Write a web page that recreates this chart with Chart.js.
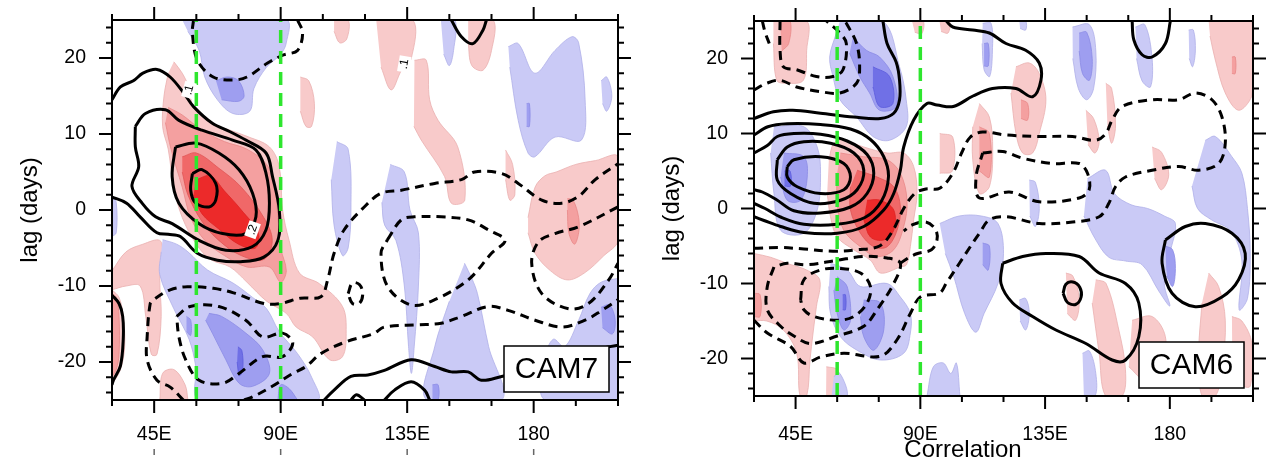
<!DOCTYPE html>
<html>
<head>
<meta charset="utf-8">
<script src="https://cdn.jsdelivr.net/npm/chart.js@4.4.0/dist/chart.umd.min.js"></script>
<style>
  body { margin: 0; background: #fff; }
  canvas { position: absolute; top: 0; }
  #cam7 { left: 0; }
  #cam6 { left: 637px; }
</style>
</head>
<body>
<canvas id="cam7" width="637" height="463"></canvas>
<canvas id="cam6" width="637" height="463"></canvas>
<script>
// axes
const lonTicks = [45, 90, 135, 180];
const lonLabels = ['45E', '90E', '135E', '180'];
const lagTicks = [-20, -10, 0, 10, 20];
const lonRange = [30, 210];
const lagRange = [-25, 25];
const guideLons = [60, 90];

// ---------- CAM7 : shaded correlation (polygons of [lon, lag]) ----------
const cam7Red1 = [
  [[52,19.5],[55,18],[57.5,16],[59,13.5],[65,11.5],[72,10.5],[78,9.7],[86,8.3],[89.5,5.7],[90.7,0],[93,-4],[96.7,-8.3],[103.8,-9.7],[112,-12.7],[113.3,-16.2],[112,-19.3],[107.4,-19.7],[101.4,-16.7],[95.5,-15.4],[92,-13.6],[85,-12],[78,-9.5],[72,-7.5],[65,-6.5],[60,-4.5],[55,-1],[52,3],[50,8],[48,11],[48.5,15],[50,18]],
  [[30,-8],[35,-5.5],[41,-4.5],[47,-4],[48,-6],[47,-9],[47.5,-14],[46,-19],[44,-19],[42,-14],[40,-10],[35,-10],[30,-10.5]],
  [[30,-10.5],[32.5,-11.5],[34,-14],[34.5,-18],[33,-21],[30,-23]],
  [[47,-25],[48,-21.5],[52,-21],[56,-23],[57,-25]],
  [[97,17.5],[100,17],[102,14],[101,11],[99,11],[97,13]],
  [[109,25],[114,25],[113.5,22.5],[111,22],[109,23.5]],
  [[124,25],[137,25],[136.5,20],[133,18.4],[129.3,15.8],[125.7,18.8]],
  [[137.6,19.7],[141.8,19.7],[143,14.5],[146,11.8],[153,8.3],[155.5,1.3],[150.7,0.9],[148.3,4.4],[140,9.2],[137.4,11]],
  [[156.7,25],[165.6,25],[165,21],[162,18.4],[158,19],[156.7,22]],
  [[170,7.9],[172.5,6],[173.3,2],[171.5,1.3],[170,4]],
  [[178,-1],[180.5,3],[184,4.5],[188,5],[195,6],[202,6.5],[210,7],[210,-4],[205,-6],[198,-8.3],[192,-9.2],[186,-8],[180.5,-5.7],[178,-3]]
];
const cam7Red2 = [
  [[50,13.5],[55,12.5],[62,10.5],[70,9],[78,8],[85,6],[88,3],[89,-1],[90,-5],[92,-8],[90,-9.5],[86,-7.5],[78,-7.5],[70,-6],[63,-4],[58,-1],[55,3],[51,8],[49,11.5]],
  [[192,1.5],[194,1.3],[196,-1],[196,-3],[194.5,-4.5],[192.5,-3],[192,0]],
  [[30,-11],[31.5,-11.5],[32.5,-14],[32.5,-19],[31.5,-21],[30,-22]]
];
const cam7Red3 = [
  [[55,7],[60,7.5],[68,5.5],[76,3],[84,-1],[87,-4],[84,-6.5],[76,-6],[68,-4],[62,-1.5],[57,2],[55,5]]
];
const cam7Red4 = [
  [[60,4],[65,4.5],[70,2.5],[76,0],[82,-3],[81,-5],[75,-4.5],[68,-2.5],[62,-0.5],[59,2]]
];
const cam7Blue1 = [
  [[55,25],[92,25],[92,22],[90,20.5],[85,18.8],[80.5,16],[79,13],[73,12.7],[67.5,14.5],[63,17.5],[61,21],[57,23.5]],
  [[48,-3.9],[53,-4.5],[57,-5.5],[64,-7.9],[73,-9.6],[80,-11.5],[85,-13],[89.5,-16],[96,-18.9],[101,-22],[103,-25],[61,-25],[59.8,-20.6],[57.4,-17],[52,-13],[47,-8.5],[47.5,-5.5]],
  [[171,21.5],[174.5,21.9],[180.4,18],[187.6,21],[193.6,22.8],[196,22],[198.3,14.5],[197,9.2],[187.6,9.6],[180.4,7],[178,7.5],[174.5,11.8],[171.5,18.8]],
  [[204,17],[206,17.5],[207.8,15],[206,13],[204.5,14]],
  [[147,25],[152,25],[151.5,21],[150,19],[148,20.5]],
  [[110,9],[114,8],[115,0],[114,-5],[112,-6],[109,-2],[108,4]],
  [[129,6],[134,5],[136,0],[139,-3],[139,-10],[137.5,-18],[136.5,-21.5],[135.5,-18],[134,-10],[131,-4],[127,-2],[126,1]],
  [[155.4,-7],[158,-9],[160,-11],[164,-18],[168.6,-25],[142,-25],[144.8,-18],[150,-12]],
  [[210,-9],[204,-9.5],[200,-11],[196,-14.5],[191,-18],[187,-17],[184,-19.5],[184,-25],[210,-25]],
  [[30,2],[31.5,1],[31.5,-3],[30,-3.5]]
];
const cam7Blue2 = [
  [[67,17],[71,17.5],[75,17],[77,15],[75,14.3],[69,14.5]],
  [[64.5,-13.6],[69,-14],[77.6,-16.2],[83.6,-18.4],[86,-21.5],[80,-23.2],[75.2,-22.8],[70.5,-19.7],[65.7,-16.2],[63.3,-14.5]],
  [[56.5,-14],[58,-14.5],[58,-16.5],[56.5,-16]],
  [[89,-25],[90,-23],[93,-23.5],[96,-25]],
  [[204,-12.8],[207,-12.5],[209,-14.5],[208,-16.3],[204.5,-15.5]],
  [[144,-23],[146,-23],[146,-25],[144,-25]],
  [[177.5,14],[178.5,14],[178.5,11],[177.5,11]]
];
const cam7Blue3 = [
  [[74.8,-18],[76.2,-18.5],[76.5,-21],[75.3,-21.8],[74.5,-20]]
];

// CAM7 : contours of the reference field
const cam7Solid = [
  [[30,14.5],[33,16.2],[37.6,17],[41,18],[46,18.5],[50.7,17.5],[55.5,15.4],[59,13.6],[65.7,11.4],[72,10.3],[77.6,9.2],[84.8,7.5],[87.1,4.4],[89.5,0],[89,-4],[84,-6.2],[75.7,-6.8],[67.5,-6.6],[60.4,-5.7],[54.3,-3.5],[50,-3.2],[46,-3],[40,-0.9],[35.2,0.9],[30,1.7]],
  [[38.3,11],[41.9,12.7],[49,13.2],[53.8,11.8],[62,10.5],[72.9,9.2],[81.2,7.9],[84.8,4.8],[86,0.9],[84.8,-2.6],[80,-4.8],[70.5,-5.3],[61,-4],[51.4,-1.8],[45.5,-0.9],[40.7,0.9],[37.1,3.1],[39.5,5.7],[38.3,8.3],[38.3,11]],
  [[52.6,8.3],[59.8,8.8],[68,7.5],[75.2,5.3],[80,2.2],[81.2,-0.9],[77.6,-3.1],[69.3,-3.1],[61,-1.8],[53.8,0.9],[51.4,4.4],[52.6,8.3]],
  [[58.6,4.8],[62,5.3],[66.9,3.5],[66.9,1.3],[64.5,0.4],[59.8,0.9],[58,2.6],[58.6,4.8]],
  [[150.7,25],[154.3,22.8],[158.4,21.9],[162,23.7],[163.2,25]],
  [[30,-11.2],[32.5,-12.3],[33.8,-14],[34,-17],[33,-20.5],[30.5,-22.4],[30,-23]],
  [[105.5,-25],[109,-23.7],[115,-21.9],[121,-21.7],[126.9,-21.1],[136.4,-19.7],[144.8,-20.6],[150.7,-21.3],[156.7,-21.3],[161.4,-22.4],[168.6,-21.9],[180,-21],[190,-20],[200,-18.5],[210,-17.8]],
  [[126.9,-25],[130.5,-23.7],[136.4,-22.6],[141.2,-23.7],[143,-25]],
  [[115,-25],[117,-24.3],[119.8,-25]]
];
const cam7Dashed = [
  [[59,25],[58.6,23.3],[60.4,19.7],[66,17.5],[73,17.1],[78,17.5],[85.2,19.3],[91,20.4],[96,21],[97.8,23.3],[96,25]],
  [[55.4,-25],[50.7,-23.3],[46,-22.4],[42.5,-19.7],[42.5,-16.7],[43.6,-12.3],[44.8,-11.8],[50.7,-10.5],[56.8,-10.1],[66,-10.3],[73.2,-10.9],[84,-12.3],[90,-12.3],[97,-11.6],[104.3,-11.4],[106.7,-9.2],[109,-5.7],[112.6,-2.6],[120,0.5],[125.7,2.2],[132.9,2.6],[144.8,3.5],[154.3,4],[159,5],[168.6,4.8],[174.5,3.5],[182.9,1.3],[190,0.9],[196,1.8],[201.9,4],[210,6.1]],
  [[128,-3.9],[132.9,-1.3],[137.6,-0.9],[147.1,-0.9],[156.7,-1.3],[163.8,-2.6],[169.8,-4],[165,-5.7],[156.7,-9.2],[144.8,-11.8],[136.4,-12.5],[128.1,-10.1],[125.7,-5.7],[128,-3.9]],
  [[77,-25],[80,-24.6],[87,-23.2],[94.3,-21.5],[99,-20.6],[104.3,-18.9],[113.5,-17.3],[122.9,-16.3],[126.9,-15.4],[138.8,-15.1],[147.1,-14.9],[154.3,-14],[163.8,-12.7],[170.9,-13.2],[180.5,-14.5],[190,-15.4],[198.3,-14.5],[204.3,-13.2],[210,-11.8]],
  [[53,-14],[57.8,-12.7],[68,-12.7],[77.6,-14.5],[83.6,-16.7],[90.7,-16.2],[94.3,-17.5],[90.7,-19.3],[83.6,-19.3],[75.2,-21.5],[69.3,-22.8],[61,-22.4],[56.2,-19.7],[53.8,-16.7],[53,-14]],
  [[210,0.4],[196,-2.2],[187.6,-3.1],[181.7,-4.2],[179.3,-7],[182.9,-11],[192.4,-13],[199.5,-12.3],[206.7,-9.2],[210,-7]],
  [[114,-11],[115.5,-9.6],[118,-9.8],[119.2,-11],[118,-12.3],[115.5,-12.3],[114,-11]]
];
const cam7Notes = [[57.4,15.8,'.1',-75],[80,-2.6,'.2',-70],[134,19.2,'.1',-80]];

// ---------- CAM6 ----------
const cam6Red1 = [
  [[57,6.5],[58.8,8.7],[62.4,9.1],[69.6,8.2],[78,7.4],[84,7.4],[87.6,5.6],[88.8,2],[87.6,-1.5],[86.4,-5.1],[85,-7.5],[82.8,-7.8],[75.6,-8.6],[72,-6.9],[66,-5.5],[60,-3.8],[57.6,-1.1],[56.4,2]],
  [[37,25],[49,25],[49,21.1],[47.8,17.1],[41.8,16.7],[38.2,17.1],[37,22]],
  [[87,25],[91,25],[90.5,23.3],[88,23.5]],
  [[96.9,25],[100.5,25],[100,23.4],[97.5,23.6]],
  [[124.5,18.9],[129.3,19.4],[132.9,18],[135.3,14.5],[132.9,10],[130.5,7.4],[126.9,7.4],[124.5,10],[122.7,15.4]],
  [[111.3,14],[114.9,12.2],[116.1,7.8],[114.9,2.9],[111.3,2],[108.9,6.5],[108.9,10.9]],
  [[97,10],[101.7,9.5],[101.5,5],[97,4.7]],
  [[149.7,13.1],[152.5,12],[154.5,9],[153,7.4],[150.5,8.5]],
  [[156.9,16.7],[159,16],[160.4,11],[159,8.7],[157.5,11]],
  [[173.6,8.2],[177,7.5],[179.6,4.5],[177,2.5],[174.5,4]],
  [[194,25],[209.6,25],[210,18],[209.6,15],[204.8,13.1],[200,15.4],[196.4,19.8],[194.5,23]],
  [[142.5,-8.6],[145,-9],[147.3,-12],[146,-14.9],[143,-14]],
  [[153.3,-9.5],[157,-10],[161.6,-16.2],[164,-21.5],[162.8,-25],[156.8,-25],[154.5,-19.3],[152,-12.6]],
  [[166.4,-14.9],[173.6,-14.4],[178.4,-17.1],[177.2,-21.1],[171.2,-22.9],[165.2,-21.1]],
  [[194,-8.6],[197.6,-10.4],[200,-14.9],[198.8,-21.5],[196.4,-25],[191.6,-25],[190.4,-19.3],[191.6,-12.6]],
  [[202.4,-14.4],[206,-15],[209.6,-18],[209,-23.7],[204,-23],[202.5,-19]],
  [[30,-6],[36,-6.5],[41.8,-7.3],[49,-8.2],[53.7,-9.5],[52.5,-13.1],[51.3,-16.6],[50.2,-20.2],[49,-25],[46.6,-25],[45.4,-19.3],[40.6,-16.2],[34.6,-15],[30,-15]],
  [[56.1,-21.1],[60,-21.5],[63.3,-24.6],[63.3,-25],[56,-25]]
];
const cam6Red2 = [
  [[61.2,7.4],[69.6,6.9],[78,6.5],[82.8,4.7],[85.2,1.1],[84,-2.4],[80.4,-5.5],[74.4,-6.4],[68.4,-5.1],[62.4,-2.9],[60,0.7],[60,4.7]],
  [[39.4,25],[43,25],[42.5,22],[40,21]],
  [[126.3,14.5],[128.7,14],[128.7,11.8],[126.3,12]],
  [[111.3,10.9],[114.9,10],[114.9,4.2],[111.3,5]],
  [[202.4,20.2],[203.6,20.2],[203.6,18],[202.4,18]],
  [[30,-11.3],[32.2,-11.5],[32.2,-14.4],[30,-14.4]]
];
const cam6Red3 = [
  [[67.2,5.1],[74.4,4.2],[80.4,2.9],[82.8,0.2],[81.6,-2.9],[78,-5.1],[73.2,-5.1],[68.4,-3.3],[64.8,-0.2],[64.8,2.9]]
];
const cam6Red4 = [
  [[70.8,1.1],[75.6,1.1],[80.4,-0.2],[80.4,-2.9],[76.8,-4.2],[72,-3.8],[69.6,-1.5]]
];
const cam6Blue1 = [
  [[37.2,10.9],[48,10.9],[52.8,8.2],[54,4.7],[52.8,-0.2],[48,-3.3],[39.6,-2.9],[37.2,2],[36,7.4]],
  [[61,25],[76.5,25],[82.5,18.9],[84.9,14.5],[84.9,10.9],[78.9,9.1],[72.9,9.6],[67,12.2],[61,14.5],[58.5,17.6],[57.3,20.2],[59.7,23.4]],
  [[57.6,-7.3],[63.6,-8.2],[68.4,-10.4],[78,-10],[82.8,-11.8],[86.4,-14],[86.4,-16.6],[84,-19.3],[75.6,-20.2],[67.2,-18.9],[61.2,-17.1],[57.6,-14],[57,-10.4]],
  [[58.8,-22.4],[61,-22],[63.6,-25],[58,-25]],
  [[92.4,-25],[94.7,-21.1],[98.3,-20.6],[101,-22],[103,-20.6],[104.3,-25]],
  [[112.5,24.7],[115.5,24.7],[116,21],[115,17.6],[113,18.5],[112.3,22]],
  [[144.9,24.2],[151,24.5],[153.3,21],[152.5,16],[150,14.5],[147,16],[145,20]],
  [[167.6,24.2],[171,24.5],[173.6,20],[173,16.2],[170,17],[168,20]],
  [[186.8,23.8],[188.5,23.8],[189.2,21],[188.2,18.9],[187,20]],
  [[129.3,3.8],[131.5,3.5],[132.9,0],[131.5,-2.4],[129.5,-1]],
  [[150.3,4],[156.8,5.1],[160,2],[166,0.5],[172,0],[178,-1],[182,-2],[180,-6],[178,-10],[180,-13],[176,-11],[170,-7.5],[164,-7],[158,-6.5],[153,-4],[149,-1]],
  [[192.8,9.1],[196.4,9.6],[202.4,6.9],[206,4.7],[208,0],[209,-6],[208,-12],[205,-13.5],[206,-7],[202,-3],[195,-1.5],[190,0],[188,3]],
  [[97,-2],[104,-1],[112,-1],[118,-2],[120,-6],[118,-10],[113,-14],[110,-16.5],[106,-14],[102,-9],[99,-6]],
  [[125.7,-12.2],[128,-12],[129.3,-14],[128,-16.2],[126,-15]],
  [[148.5,-19.3],[151,-19],[153.3,-22],[153,-25],[149,-25]],
  [[125.7,25],[128,25],[128,23.8],[126,24]]
];
const cam6Blue2 = [
  [[40.8,7.4],[48,6.9],[49.2,4.2],[46.8,1.1],[42,1.1],[39.6,4.2]],
  [[65.7,22.9],[70.5,21.1],[75.3,20.2],[80.1,17.6],[81.3,13.6],[75.3,13.1],[71.7,15.4],[68.1,17.6],[64.5,20.7]],
  [[60,-9.1],[63.6,-10.4],[64.8,-14.9],[62.4,-16.2],[60,-14],[58.8,-10.9]],
  [[69.6,-12.2],[75.6,-12.6],[76.8,-16.2],[73.2,-18.9],[69.6,-17.1],[68.4,-14.4]],
  [[147.3,23.4],[150,23.5],[152,20],[151,17.1],[148.5,18],[147.3,21]],
  [[113,22],[114.5,22],[114.5,19],[113,19]],
  [[178.4,-5],[181,-5.5],[182,-8],[181,-10.4],[178.8,-9]],
  [[112.5,-4.6],[114.9,-5],[114.5,-8.2],[112.5,-7.5]]
];
const cam6Blue3 = [
  [[41,5],[43,5],[43.2,3],[41,3]],
  [[72.9,18.9],[78.9,17.6],[80.1,14],[75.3,13.6],[72.9,16.2]],
  [[62,-11.5],[63,-11.5],[63,-13.5],[62,-13.5]]
];
const cam6Solid = [
  [[30,12],[37,12.9],[44,13.1],[54,12.7],[66,12.2],[75.6,12],[80.4,12.7],[82.5,14.5],[82.5,17.1],[81.3,19.5],[78,22],[76.5,25]],
  [[30,-1.1],[33.6,-1.6],[39.6,-2.4],[48,-3.2],[60,-3.3],[69.6,-2.4],[76.8,-0.2],[80.4,2],[82.8,5.1],[84,8.2],[87.6,11.8],[92.4,14],[96,13.8],[101.9,13.6],[109,15],[116,16],[124.5,16],[130.5,14.9],[133.5,17.1],[132.9,19.4],[128,21.1],[120.9,22],[114.9,23.4],[108.9,23.8],[101.7,24.2],[99.3,25]],
  [[30,9.8],[35,10.9],[42,11.3],[54,11.2],[64.8,10.6],[72,9.2],[76.8,6.9],[78.5,4.2],[76,1],[70,-1.2],[60,-2.1],[48,-2.1],[40,-1.2],[34,0],[30,0.7]],
  [[30,7.4],[34.8,8.4],[38.4,9.6],[44.4,10],[54,9.9],[63.6,9],[70.8,7.2],[73.2,4.7],[70.8,2],[64.8,0.2],[54,-0.6],[44.4,-0.3],[38,1.2],[33,2.2],[30,2.5]],
  [[38.4,6.5],[42,8.2],[48,8.9],[57.6,8.7],[66,7.4],[69.6,5.1],[67.2,2.5],[61.2,1.1],[51.6,0.7],[43.2,2],[38.4,3.8],[38.4,6.5]],
  [[42,5.6],[44.4,6.5],[54,6.9],[62.4,6],[64.8,4.2],[62.4,2.5],[54,2],[45.6,2.9],[42,4.2],[42,5.6]],
  [[166.4,25],[167,22.5],[170,20.5],[173.6,20.2],[178.4,22],[180.2,25]],
  [[178.4,-4.2],[185.6,-2.4],[192.8,-2],[202.4,-3.3],[207.2,-6],[204.8,-9.5],[198.8,-11.8],[189.2,-13.1],[180.8,-11.3],[177.2,-7.3],[178.4,-4.2]],
  [[119.7,-7.3],[126.9,-6.4],[135.3,-6],[147.3,-6.4],[154.5,-8.6],[164,-10],[168.8,-12.6],[168.8,-17.1],[164,-20.2],[159.2,-20.2],[149.7,-18],[138.9,-16.2],[130.5,-14.4],[123.3,-12.6],[119.1,-10],[119.7,-7.3]],
  [[141.5,-11.3],[142.5,-10.1],[145,-9.8],[147.5,-10.5],[148,-11.8],[146,-12.8],[143,-12.5],[141.5,-11.3]]
];
const cam6Dashed = [
  [[30,15.8],[34.6,16.7],[39.4,17.1],[45.4,16.2],[53.7,15.6],[61,15.4],[67,16.7],[68.1,18.9],[67,22],[63.3,24.7],[62.5,25]],
  [[39.4,25],[39.4,21.1],[40.6,18.9],[45.4,18.5],[52.5,17.6],[58.5,17.6],[62.1,18.5],[63.3,22],[61,23.4],[56.1,25]],
  [[33,25],[34,23.5],[35.5,22]],
  [[30,-5.3],[39.6,-5.2],[48,-5.4],[58.5,-5.7],[67,-5.5],[75.3,-5],[80,-3],[84,0],[88,2],[92,2.6],[97,2.7],[101.7,4.7],[105,7.5],[108,9.5],[112.5,10.2],[120.9,9.8],[132.9,9.6],[144.9,9.6],[153.3,9.1],[156.9,10],[159.2,11.8],[162.8,13.6],[173.6,14.5],[183.2,14.5],[189.2,15.4],[195.2,14.5],[198.8,12.2],[200,8.7],[197.6,6],[190.4,5.1],[183.2,5.6],[173.6,5.1],[164,4.2],[160.4,2.9],[158,0.7],[154.5,-1.1],[144.9,-1.8],[132.9,-2],[120.9,-1.1],[114.9,-1.5],[111.3,-3.3],[108.9,-4.6],[104.1,-7.3],[99.3,-10],[96.9,-11.3],[90,-11.8],[86.4,-14],[81.6,-17.5],[75.6,-19.7],[62.4,-19.3],[54,-19.8],[48,-20.6],[43.2,-18.4],[34.8,-16.6],[30,-14.9]],
  [[112.5,7.4],[119.7,7.6],[126.9,6.7],[137.7,6],[147.3,6],[150.3,4.7],[150.9,2.5],[147.3,1.4],[132.9,0.9],[122.1,2.2],[111.3,1.4],[110.1,4.2],[112.5,7.4]],
  [[82.8,-7.3],[86,-6.5],[89,-6],[94,-5.5],[96,-4.2],[95.5,-2.8],[92,-1.8],[87,-2.2],[84,-3]],
  [[37.2,-7.8],[34.8,-10.4],[34.8,-13.5],[39.6,-15.7],[44.4,-17],[50.4,-18],[60,-17],[69.6,-15.7],[74.4,-13.5],[80.4,-10],[82.8,-7.3],[78,-6.6],[69.6,-6.4],[60,-6.9],[49.2,-7.5],[42,-7.3],[37.2,-7.8]],
  [[46.8,-12.2],[48,-9.5],[54,-8.2],[61.2,-8],[68.4,-8.6],[72,-10.4],[70.8,-12.6],[66,-14.4],[60,-14.9],[51.6,-14.4],[48,-13.5],[46.8,-12.2]]
];

const FONT = '"Liberation Sans", Arial, Helvetica, sans-serif';
Chart.defaults.font.family = FONT;
Chart.defaults.color = '#000';

const red = ['#f8caca', '#f4a0a0', '#f06868', '#ec2a2a'];
const redEdge = ['#eab0b0', '#e88888', '#e05454', '#dd2222'];
const blue = ['#cacaf6', '#9e9ef0', '#7070e6'];
const blueEdge = ['#b0b0e8', '#8a8ae4', '#5c5cdc'];

// ticks, frame, panel name and notes
const framePlugin = {
  id: 'frame',
  afterDatasetsDraw(chart, args, opts) {
    const {ctx, chartArea: a, scales: {x, y}} = chart;
    ctx.save();
    ctx.strokeStyle = '#000';
    ctx.lineWidth = 2;
    ctx.strokeRect(a.left, a.top, a.right - a.left, a.bottom - a.top);
    ctx.beginPath();
    for (let v = lonRange[0]; v <= lonRange[1]; v += 15) {
      const px = x.getPixelForValue(v), len = v % 45 === 0 ? 13 : 6;
      ctx.moveTo(px, a.bottom); ctx.lineTo(px, a.bottom + len);
      ctx.moveTo(px, a.top); ctx.lineTo(px, a.top - len);
    }
    for (let v = lagRange[0] + 1; v < lagRange[1]; v += 2) {
      const py = y.getPixelForValue(v), len = v % 10 === 0 ? 13 : 6;
      ctx.moveTo(a.left, py); ctx.lineTo(a.left - len, py);
      ctx.moveTo(a.right, py); ctx.lineTo(a.right + len, py);
    }
    for (const v of lagTicks) {
      const py = y.getPixelForValue(v);
      ctx.moveTo(a.left, py); ctx.lineTo(a.left - 13, py);
      ctx.moveTo(a.right, py); ctx.lineTo(a.right + 13, py);
    }
    ctx.stroke();

    // stubs of the panel below, cut by the page edge
    if (opts.stubs) {
      ctx.strokeStyle = '#666';
      ctx.lineWidth = 1.5;
      ctx.beginPath();
      for (const v of lonTicks) {
        const px = x.getPixelForValue(v);
        ctx.moveTo(px, 449); ctx.lineTo(px, 455);
      }
      ctx.stroke();
      ctx.strokeStyle = '#000';
    }

    // contour labels
    ctx.font = '12px ' + FONT;
    ctx.textAlign = 'center';
    ctx.textBaseline = 'middle';
    for (const [lon, lag, txt, ang] of (opts.notes || [])) {
      ctx.save();
      ctx.translate(x.getPixelForValue(lon), y.getPixelForValue(lag));
      ctx.rotate(ang * Math.PI / 180);
      ctx.fillStyle = '#fff';
      ctx.fillRect(-8, -6, 16, 12);
      ctx.fillStyle = '#000';
      ctx.fillText(txt, 0, 0);
      ctx.restore();
    }

    // panel name box
    const bw = 105, bh = 46;
    const bx = a.right - 9 - bw, by = a.bottom - 8 - bh;
    ctx.fillStyle = '#fff';
    ctx.fillRect(bx, by, bw, bh);
    ctx.lineWidth = 1.5;
    ctx.strokeRect(bx, by, bw, bh);
    ctx.fillStyle = '#000';
    ctx.font = '30px ' + FONT;
    ctx.textAlign = 'center';
    ctx.textBaseline = 'middle';
    ctx.fillText(opts.name, bx + bw / 2, by + bh / 2 + 1);

    if (opts.caption) {
      ctx.font = '24px ' + FONT;
      ctx.textBaseline = 'alphabetic';
      ctx.fillText(opts.caption, a.left + 209, 457);
    }
    ctx.restore();
  }
};

function makePanel(id, fills, solid, dashed, extra, box) {
  const datasets = [];
  fills.forEach(([polys, color, edge], k) => {
    polys.forEach(p => datasets.push({
      data: p.map(([lon, lag]) => ({x: lon, y: lag})),
      showLine: true, fill: 'shape', backgroundColor: color,
      borderColor: edge, borderWidth: 0.8, pointRadius: 0,
      tension: 0.35, order: 60 - k
    }));
  });
  const line = (p, dash) => ({
    data: p.map(([lon, lag]) => ({x: lon, y: lag})),
    showLine: true, fill: false, borderColor: '#000', borderWidth: 3,
    borderDash: dash, pointRadius: 0, tension: 0.35, order: 5, clip: 0
  });
  solid.forEach(p => datasets.push(line(p, [])));
  dashed.forEach(p => datasets.push(line(p, [9, 6])));
  guideLons.forEach(lon => datasets.push({
    data: lagRange.map(lag => ({x: lon, y: lag})),
    showLine: true, fill: false, borderColor: '#2ee62e', borderWidth: 3.5,
    borderDash: [13, 8], pointRadius: 0, order: 1, clip: 0
  }));

  return new Chart(document.getElementById(id), {
    type: 'scatter',
    data: {datasets},
    plugins: [framePlugin],
    options: {
      responsive: false,
      animation: false,
      events: [],
      devicePixelRatio: 1,
      layout: {padding: {top: box.top, right: box.right, left: 0, bottom: 0}},
      plugins: {
        legend: {display: false},
        tooltip: {enabled: false},
        frame: extra
      },
      scales: {
        x: {
          type: 'linear', min: lonRange[0], max: lonRange[1],
          afterBuildTicks: s => { s.ticks = lonTicks.map(v => ({value: v})); },
          afterFit: s => { s.height = box.xh; s.paddingLeft = 0; s.paddingRight = 0; },
          grid: {display: false, drawTicks: false},
          border: {display: false},
          ticks: {
            autoSkip: false, maxRotation: 0, padding: box.xpad,
            font: {size: 19.5},
            callback: v => lonLabels[lonTicks.indexOf(v)]
          }
        },
        y: {
          type: 'linear', min: lagRange[0], max: lagRange[1],
          afterBuildTicks: s => { s.ticks = lagTicks.map(v => ({value: v})); },
          afterFit: s => { s.width = box.yw; s.paddingTop = 0; s.paddingBottom = 0; },
          grid: {display: false, drawTicks: false},
          border: {display: false},
          ticks: {padding: 26, font: {size: 19.5}},
          title: {
            display: true, text: 'lag (days)', font: {size: 24},
            padding: {top: box.tpad, bottom: 0}
          }
        }
      }
    }
  });
}

makePanel('cam7',
  [[cam7Red1, red[0], redEdge[0]], [cam7Blue1, blue[0], blueEdge[0]],
   [cam7Red2, red[1], redEdge[1]], [cam7Blue2, blue[1], blueEdge[1]],
   [cam7Red3, red[2], redEdge[2]], [cam7Blue3, blue[2], blueEdge[2]],
   [cam7Red4, red[3], redEdge[3]]],
  cam7Solid, cam7Dashed,
  {name: 'CAM7', notes: cam7Notes, stubs: true},
  {top: 20, right: 19, xh: 63, yw: 112, xpad: 23, tpad: 16});

makePanel('cam6',
  [[cam6Red1, red[0], redEdge[0]], [cam6Blue1, blue[0], blueEdge[0]],
   [cam6Red2, red[1], redEdge[1]], [cam6Blue2, blue[1], blueEdge[1]],
   [cam6Red3, red[2], redEdge[2]], [cam6Blue3, blue[2], blueEdge[2]],
   [cam6Red4, red[3], redEdge[3]]],
  cam6Solid, cam6Dashed,
  {name: 'CAM6', caption: 'Correlation'},
  {top: 21, right: 21, xh: 67, yw: 117, xpad: 27, tpad: 21});
</script>
</body>
</html>
